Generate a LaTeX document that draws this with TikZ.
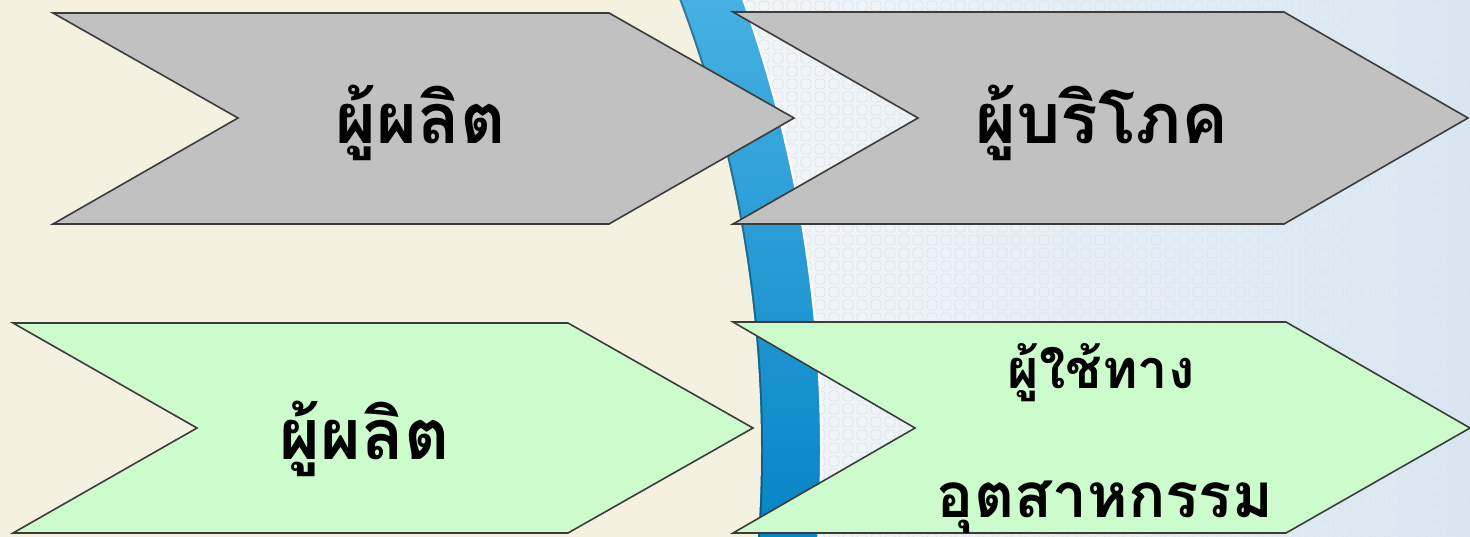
\documentclass[tikz,border=0pt]{standalone}
\usepackage{fontspec}
\newfontfamily\thaifont[Script=Thai]{Loma}
\definecolor{beige}{RGB}{244,241,224}
\definecolor{graybox}{RGB}{193,193,193}
\definecolor{greenbox}{RGB}{205,252,204}
\definecolor{edgegray}{RGB}{60,60,60}
\definecolor{bandtop}{RGB}{70,176,226}
\definecolor{bandbot}{RGB}{6,132,198}
\definecolor{paleleft}{RGB}{245,247,249}
\definecolor{paleright}{RGB}{216,231,242}
\definecolor{ringcol}{RGB}{222,228,234}
\begin{document}
\begin{tikzpicture}[x=1pt,y=-1pt,
  arrowbox/.style={draw=edgegray, line width=1.6pt, line join=miter},
  thaitext/.style={font=\thaifont\bfseries\fontsize{70}{80}\selectfont, anchor=base, inner sep=0pt, text=black},
  thaismall/.style={thaitext, font=\thaifont\bfseries\fontsize{54}{64}\selectfont},
  thaiwide/.style={thaitext, font=\thaifont\bfseries\fontsize{62}{72}\selectfont}]
\useasboundingbox (0,0) rectangle (1470,536);
\begin{scope}
  \clip (0,0) rectangle (1470,536);
  % pale patterned field on the right
  \shade[left color=paleleft, right color=paleright] (700,0) rectangle (1470,536);
  \foreach \i in {0,...,52}
    \foreach \j in {0,...,41}
      \draw[ringcol, line width=0.8pt, rounded corners=3pt]
        ({745+\i*14},{1+\j*13}) rectangle ++(10,10);
  % curved blue band
  \begin{scope}
    \clip (-515,450) circle[radius=1336pt];
    \shade[top color=bandtop, bottom color=bandbot] (0,0) rectangle (1470,536);
  \end{scope}
  \draw[white, line width=2pt] (-515,450) circle[radius=1336pt];
  % beige field on the left
  \fill[beige] (-515,450) circle[radius=1276pt];
  \draw[black, opacity=0.3, line width=2pt] (-515,450) circle[radius=1277pt];
\end{scope}

% chevrons
\draw[arrowbox, fill=graybox]
  (53,13) -- (609,13) -- (794,118) -- (609,224) -- (53,224) -- (238,118) -- cycle;
\draw[arrowbox, fill=graybox]
  (733,12) -- (1284,12) -- (1468,118) -- (1284,224) -- (733,224) -- (918,118) -- cycle;
\draw[arrowbox, fill=greenbox]
  (13,323) -- (568,323) -- (753,428) -- (568,533) -- (13,533) -- (197,428) -- cycle;
\draw[arrowbox, fill=greenbox]
  (733,322) -- (1286,322) -- (1470,428) -- (1286,533) -- (733,533) -- (915,428) -- cycle;

% labels
\node[thaitext] (producerA) at (421,143) {ผู้ผลิต};
\node[thaitext] (consumer) at (1102,143) {ผู้บริโภค};
\node[thaitext] (producerB) at (365,459) {ผู้ผลิต};
\node[thaismall] (userA) at (1101,388) {ผู้ใช้ทาง};
\node[thaiwide] (userB) at (1105,517) {อุตสาหกรรม};
\end{tikzpicture}
\end{document}
